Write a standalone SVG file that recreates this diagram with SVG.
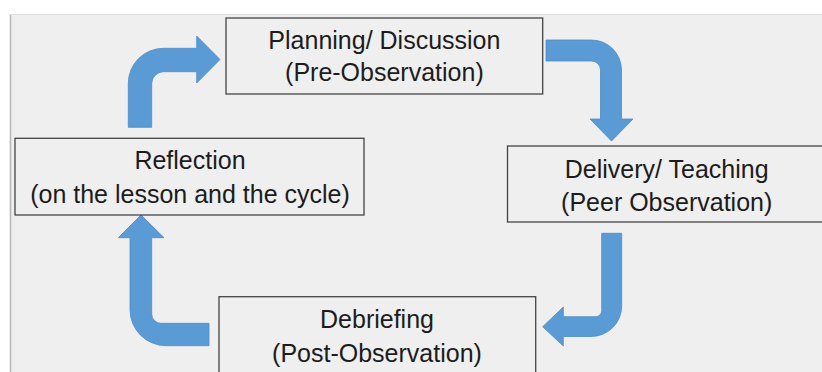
<svg xmlns="http://www.w3.org/2000/svg" width="822" height="372" viewBox="0 0 822 372">
  <style>
    .box { fill: #efefef; stroke: #444444; stroke-width: 1.3; }
    .lbl { font-family: "Liberation Sans", Arial, sans-serif; font-size: 25px; fill: #1c1c1c; text-anchor: middle; }
    .arrow { fill: #5b9bd5; stroke: #4d8cc8; stroke-width: 0.8; stroke-linejoin: miter; }
  </style>
  <rect x="0" y="0" width="822" height="372" fill="#ffffff"/>
  <rect x="10" y="14" width="812" height="358" fill="#efefef"/>
  <line x1="10.5" y1="14" x2="10.5" y2="372" stroke="#b5b5b5" stroke-width="1.5"/>
  <line x1="10" y1="14.5" x2="822" y2="14.5" stroke="#dedede" stroke-width="1"/>

  <g id="connectors">
    <path class="arrow" d="M128.3,127.3 L128.3,83.3 A35,35 0 0 1 163.3,48.3 L196.7,48.3 L196.7,36 L220,59.5 L196.7,83 L196.7,71.7 L163.7,71.7 A12,12 0 0 0 151.7,83.7 L151.7,127.3 Z"/>
    <path class="arrow" d="M546,40 L591.5,40 A30,30 0 0 1 621.5,70 L621.5,119 L633,119 L611.5,141 L590,119 L600.5,119 L600.5,70 A9,9 0 0 0 591.5,61 L546,61 Z"/>
    <path class="arrow" d="M601.7,233.3 L621.7,233.3 L621.7,306 A30.5,30.5 0 0 1 591.2,336.5 L563.3,336.5 L563.3,346 L542.7,326.7 L563.3,307 L563.3,316.7 L595.7,316.7 A6,6 0 0 0 601.7,310.7 Z"/>
    <path class="arrow" d="M209,323.3 L209,345.7 L166,345.7 A36,36 0 0 1 130,309.7 L130,237.7 L118.3,237.7 L141,215 L164,237.7 L151.7,237.7 L151.7,314 A9.3,9.3 0 0 0 161,323.3 Z"/>
  </g>

  <g id="planning">
    <rect class="box" x="226" y="18" width="316.7" height="76"/>
    <text class="lbl" x="384.4" y="49">Planning/ Discussion</text>
    <text class="lbl" x="384.4" y="81">(Pre-Observation)</text>
  </g>
  <g id="delivery">
    <rect class="box" x="507.5" y="146" width="330" height="76"/>
    <text class="lbl" x="666.7" y="178">Delivery/ Teaching</text>
    <text class="lbl" x="666.7" y="210.5">(Peer Observation)</text>
  </g>
  <g id="debriefing">
    <rect class="box" x="219" y="296.7" width="316.7" height="90"/>
    <text class="lbl" x="377" y="328">Debriefing</text>
    <text class="lbl" x="377" y="362">(Post-Observation)</text>
  </g>
  <g id="reflection">
    <rect class="box" x="15" y="138.3" width="349" height="76.7"/>
    <text class="lbl" x="190" y="169">Reflection</text>
    <text class="lbl" x="190" y="203">(on the lesson and the cycle)</text>
  </g>
</svg>
